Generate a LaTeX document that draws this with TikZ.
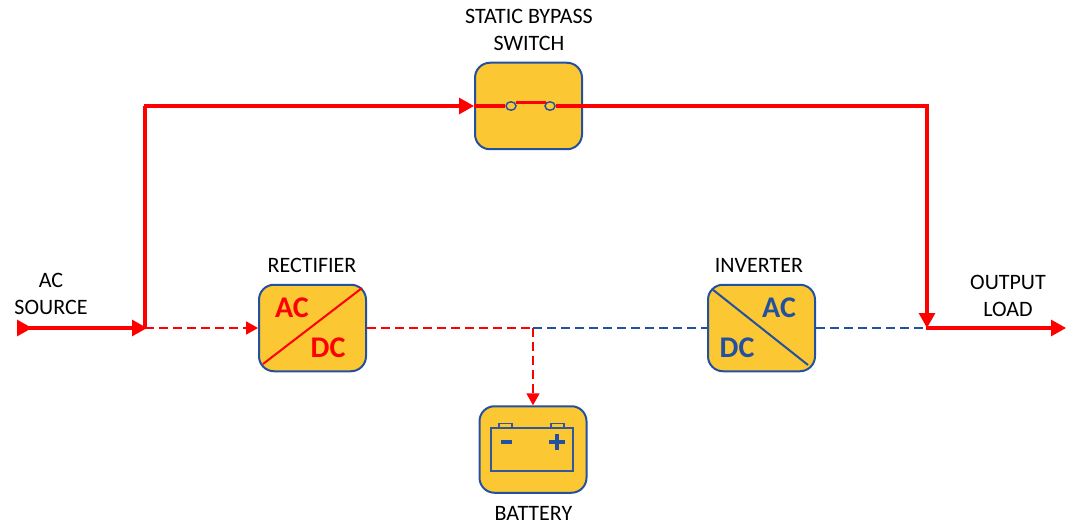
\documentclass[tikz,border=0pt]{standalone}
\usepackage{fontspec}
\setmainfont{Carlito}
\usetikzlibrary{arrows.meta, positioning}
\definecolor{boxfill}{HTML}{FBC733}
\definecolor{boxblue}{HTML}{2450A0}
\tikzset{
	unitbox/.style={draw=boxblue, line width=2pt, fill=boxfill, rounded corners=15pt, minimum width=107pt, minimum height=86.5pt, inner sep=0pt},
	caption/.style={font=\fontsize{22}{27}\selectfont, align=center, text=black},
	bigtag/.style={font=\fontsize{30}{32}\selectfont\bfseries},
	contact/.style={draw=boxblue, line width=1.4pt, fill=boxfill, circle, minimum size=10pt, inner sep=0pt, yscale=.85},
	mainline/.style={draw=red, line width=3.1pt},
	dashred/.style={draw=red, line width=1.8pt, dash pattern=on 9pt off 5pt},
	dashblue/.style={draw=boxblue, line width=1.8pt, dash pattern=on 9pt off 5pt},
	tip/.style={-{Triangle[length=15pt,width=16pt]}},
	smalltip/.style={-{Triangle[length=12pt,width=13pt]}}
}
\begin{document}
\begin{tikzpicture}[x=1pt,y=-1pt]
		\useasboundingbox (0,0) rectangle (1069,524);
		% The four boxes
		\node[unitbox] (switch) at (528.5,106) {};
		\node[unitbox] (rectifier) at (312.5,328) {};
		\node[unitbox] (inverter) at (761.5,328) {};
		\node[unitbox] (battery) at (533,449.5) {};
		
		% Labels for boxes
		\node[caption] (switchlabel) at (529,30) {STATIC BYPASS\\SWITCH};
		\node[caption] (rectifierlabel) at (312,265) {RECTIFIER};
		\node[caption] (inverterlabel) at (759,265) {INVERTER};
		\node[caption] (batterylabel) at (533.5,513) {BATTERY};
		\node[caption] (sourcelabel) at (51,294) {AC\\SOURCE};
		\node[caption] (loadlabel) at (1008,296) {OUTPUT\\LOAD};
		
		% Junctions and free ends
		\coordinate (source) at (17,328);
		\coordinate (inlet) at (145,328);
		\coordinate (topleft) at (145,106);
		\coordinate (topright) at (927,106);
		\coordinate (outlet) at (927,328);
		\coordinate (load) at (1066,328);
		\coordinate (tap) at (533,328);
		
		% Contacts of the switch
		\node[contact] (contactA) at (511,106) {};
		\node[contact] (contactB) at (550,106) {};
		
		% Dashed paths
		\draw[dashred, smalltip] (inlet) -- (rectifier.west);
		\draw[dashred] (rectifier.east) -- (tap);
		\draw[dashred, smalltip] (tap) -- (battery.north);
		\draw[dashblue] (tap) -- (inverter.west);
		\draw[dashblue] (inverter.east) -- (outlet);
		
		% Heavy paths
		\draw[mainline, {Triangle[length=15pt,width=16pt,reversed]}-{Triangle[length=15pt,width=16pt]}] (source) -- (147,328);
		\draw[mainline] (inlet) -- (topleft);
		\draw[mainline, tip, shorten <=-1.5pt] (topleft) -- (switch.west);
		\draw[mainline] (switch.west) -- (contactA.west);
		\draw[mainline, tip, shorten <=-1.5pt] (topright) -- (outlet);
		\draw[mainline] (contactB.east) -- (topright);
		\draw[mainline, tip, shorten <=-1.5pt] (outlet) -- (load);
		\draw[draw=red, line width=3pt] (516,103) -- (546,103);
		
		% Rectifier face
		\draw[red, line width=2pt] (362,288) -- (263,364);
		\node[bigtag, text=red] (rectifierac) at (292,308) {AC};
		\node[bigtag, text=red] (rectifierdc) at (328,348) {DC};
		
		% Inverter face
		\draw[boxblue, line width=2pt] (712,289) -- (808,365);
		\node[bigtag, text=boxblue] (inverterac) at (779,308) {AC};
		\node[bigtag, text=boxblue] (inverterdc) at (737,348) {DC};
		
		% Battery face
		\draw[boxblue!85!gray, line width=1.4pt] (491,428) rectangle (573,471);
		\draw[boxblue!85!gray, line width=1.4pt] (499,428) |- (512,423.5) -- (512,428);
		\draw[boxblue!85!gray, line width=1.4pt] (551,428) |- (564,423.5) -- (564,428);
		\draw[boxblue, line width=3.4pt] (501,442) -- (512,442);
		\draw[boxblue, line width=3.4pt] (549,442) -- (565,442);
		\draw[boxblue, line width=3.4pt] (557,434) -- (557,450);
\end{tikzpicture}
\end{document}
